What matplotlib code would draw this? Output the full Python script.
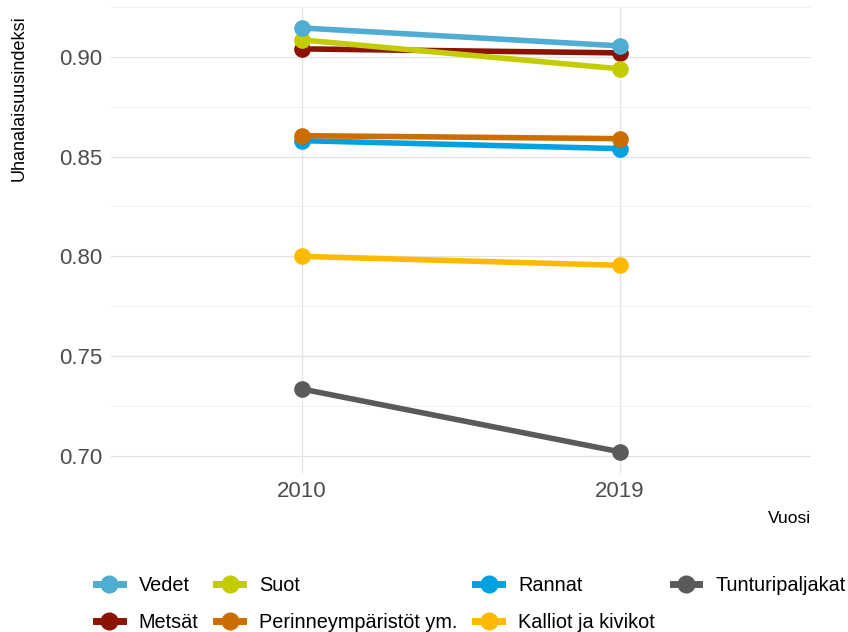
import matplotlib.pyplot as plt
from matplotlib.lines import Line2D

plt.rcParams['font.family'] = ['Liberation Sans', 'DejaVu Sans']

years = ['2010', '2019']
names = ['Vedet', 'Metsät', 'Suot', 'Perinneympäristöt ym.', 'Rannat',
         'Kalliot ja kivikot', 'Tunturipaljakat']
values = {
    'Vedet': [0.9145, 0.9055],
    'Metsät': [0.904, 0.902],
    'Suot': [0.9085, 0.894],
    'Perinneympäristöt ym.': [0.8605, 0.859],
    'Rannat': [0.858, 0.854],
    'Kalliot ja kivikot': [0.800, 0.7955],
    'Tunturipaljakat': [0.7335, 0.702],
}
colors = {
    'Vedet': '#4FACD3',
    'Metsät': '#8C1300',
    'Suot': '#C3CC00',
    'Perinneympäristöt ym.': '#CC6D00',
    'Rannat': '#00A1E1',
    'Kalliot ja kivikot': '#FFB900',
    'Tunturipaljakat': '#5A5A5C',
}
# drawing order (last on top)
draw_order = ['Metsät', 'Suot', 'Vedet', 'Rannat', 'Perinneympäristöt ym.',
              'Kalliot ja kivikot', 'Tunturipaljakat']

fig = plt.figure(figsize=(8.48, 6.32), dpi=100)
ax = fig.add_axes([111/848, 1-473/632, 700/848, 466/632])

x = [1, 2]
for i, n in enumerate(draw_order):
    ax.plot(x, values[n], color=colors[n], lw=4.0, solid_capstyle='butt', zorder=3+i)
for i, n in enumerate(draw_order):
    ax.plot(x, values[n], 'o', color=colors[n], ms=12, mec='none', zorder=10+i)

ax.set_xlim(0.4, 2.6)
ax.set_ylim(0.6914, 0.925)
ax.set_xticks(x)
ax.set_xticklabels(years)
ax.set_yticks([0.70, 0.75, 0.80, 0.85, 0.90])
ax.set_yticklabels(['0.70', '0.75', '0.80', '0.85', '0.90'])
ax.set_yticks([0.725, 0.775, 0.825, 0.875, 0.925], minor=True)
ax.grid(which='major', color='#E3E3E3', lw=0.9)
ax.grid(which='minor', axis='y', color='#EFEFEF', lw=0.6)
ax.tick_params(axis='both', which='both', length=0, labelsize=16,
               labelcolor='#4D4D4D', pad=6)
for s in ax.spines.values():
    s.set_visible(False)
ax.set_axisbelow(True)

ax.set_ylabel('Uhanalaisuusindeksi', fontsize=13, color='black', loc='top')
ax.yaxis.set_label_coords(-83/700, 1 - 8/466)
ax.set_xlabel('Vuosi', fontsize=12.5, color='black', loc='right', labelpad=6)

handles = []
for n in names:
    handles.append(Line2D([], [], color=colors[n], lw=5, marker='o', ms=13,
                          mec='none', label=n))
fig.legend(handles=handles, ncol=4, loc='lower left',
           bbox_to_anchor=(92/848, -0.006), frameon=False, fontsize=14.3,
           handlelength=1.35, handletextpad=0.8, columnspacing=0.9,
           labelspacing=0.9, borderpad=0.2, borderaxespad=0)

fig.savefig('out.png', dpi=100)
